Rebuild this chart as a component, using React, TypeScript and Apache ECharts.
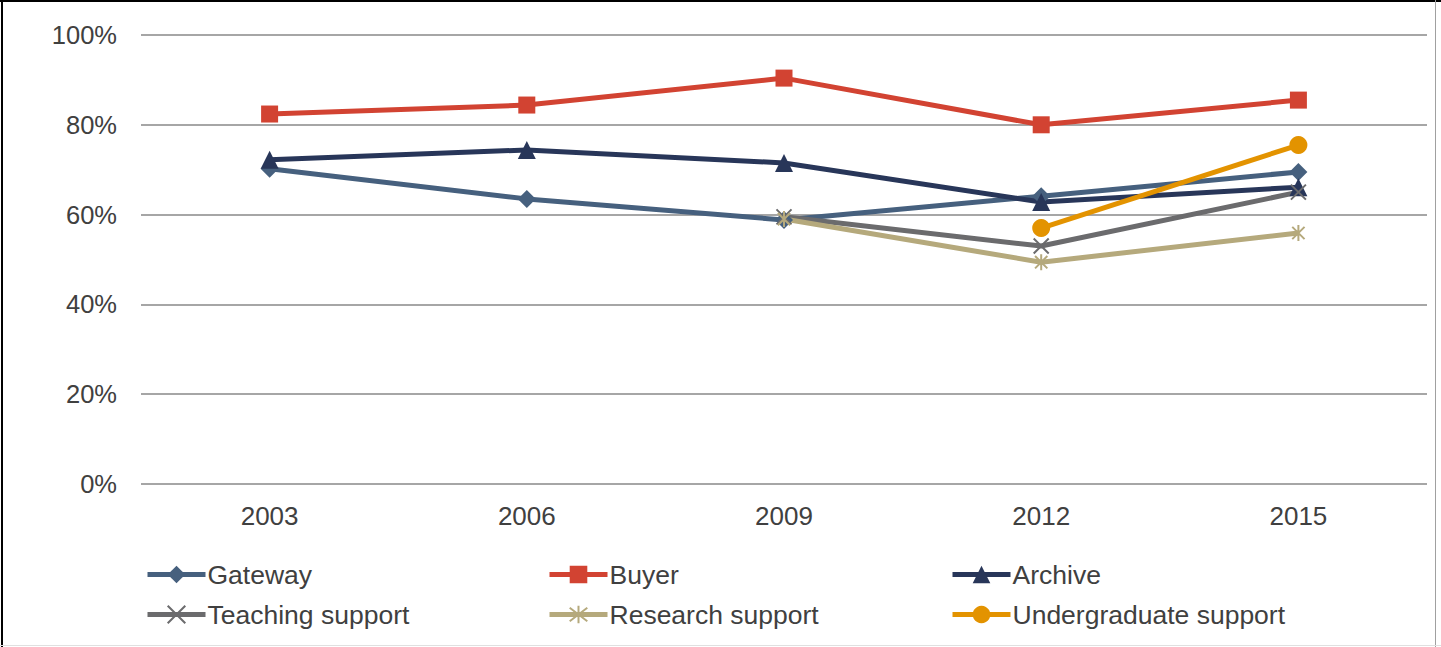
import React, { useEffect, useRef } from "react";
import * as echarts from "echarts";

const categories = ["2003", "2006", "2009", "2012", "2015"];
const seriesNames = ["Gateway", "Buyer", "Archive", "Teaching support", "Research support", "Undergraduate support"];
const gateway = [70.2, 63.5, 58.8, 64.1, 69.5];
const buyer = [82.4, 84.4, 90.4, 80.0, 85.5];
const archive = [72.2, 74.4, 71.5, 62.8, 66.1];
const teaching = [null, null, 59.5, 53.0, 65.0];
const research = [null, null, 59.0, 49.4, 55.9];
const undergraduate = [null, null, null, 57.0, 75.5];
const yTicks = [0, 20, 40, 60, 80, 100];

const colors = ["#46607E", "#D24332", "#283659", "#6B6B6D", "#B5A97C", "#E39300"];
const X_PATH = "path://M0,0L10,10M10,0L0,10";
const STAR_PATH = "path://M0,0L10,10M10,0L0,10M5,-1.5L5,11.5";
const FONT = "Liberation Sans, Arial, sans-serif";

export default function App() {
  const ref = useRef<HTMLDivElement>(null);
  useEffect(() => {
    document.body.style.margin = "0";
    const chart = echarts.init(ref.current!, null, { renderer: "svg" });
    const values = [gateway, buyer, archive, teaching, research, undergraduate];
    const symbols = ["diamond", "rect", "triangle", X_PATH, STAR_PATH, "circle"];
    const sizes = [18, 17, 18, 15, 16, 18];
    const series = seriesNames.map((name, i) => {
      const open = i === 3 || i === 4;
      return {
        name,
        type: "line",
        data: values[i],
        symbol: symbols[i],
        symbolSize: sizes[i],
        symbolKeepAspect: true,
        showAllSymbol: true,
        connectNulls: false,
        lineStyle: { color: colors[i], width: 5 },
        itemStyle: open
          ? { color: colors[i], borderColor: colors[i], borderWidth: 2 }
          : { color: colors[i], borderWidth: 0 },
        emphasis: { disabled: true },
      };
    });
    const legendPos = [
      [145, 561],
      [547, 561],
      [950, 561],
      [145, 601],
      [547, 601],
      [950, 601],
    ];
    const legends = seriesNames.map((name, i) => ({
      data: [name],
      left: legendPos[i][0],
      top: legendPos[i][1],
      padding: 0,
      itemWidth: 58,
      itemHeight: 22,
      itemGap: 0,
      lineStyle: { width: 5 },
      textStyle: { fontSize: 26.5, color: "#404040", fontFamily: FONT, padding: [0, 0, 0, -3] },
      selectedMode: false,
    }));
    chart.setOption({
      animation: false,
      textStyle: { fontFamily: FONT },
      grid: { left: 141, right: 14, top: 35, bottom: 163, containLabel: false },
      legend: legends,
      xAxis: {
        type: "category",
        data: categories,
        boundaryGap: true,
        axisLine: { show: false },
        axisTick: { show: false },
        axisLabel: { fontSize: 26, color: "#404040", margin: 19 },
      },
      yAxis: {
        type: "value",
        min: yTicks[0],
        max: yTicks[yTicks.length - 1],
        interval: 20,
        axisLine: { show: false },
        axisTick: { show: false },
        axisLabel: { fontSize: 25.5, color: "#404040", margin: 24, formatter: "{value}%" },
        splitLine: { lineStyle: { color: "#898989", width: 1.5 } },
      },
      graphic: [
        { type: "line", shape: { x1: 2, y1: 0, x2: 2, y2: 647 }, style: { stroke: "#000", lineWidth: 2 }, silent: true },
        { type: "line", shape: { x1: 0, y1: 1, x2: 1441, y2: 1 }, style: { stroke: "#000", lineWidth: 2 }, silent: true },
        { type: "line", shape: { x1: 1435.5, y1: 0, x2: 1435.5, y2: 647 }, style: { stroke: "#A0A0A0", lineWidth: 1 }, silent: true },
        { type: "line", shape: { x1: 0, y1: 645.5, x2: 1441, y2: 645.5 }, style: { stroke: "#E0E0E0", lineWidth: 1 }, silent: true },
      ],
      series,
    });
    return () => chart.dispose();
  }, []);
  return <div ref={ref} style={{ width: 1441, height: 647 }} />;
}
